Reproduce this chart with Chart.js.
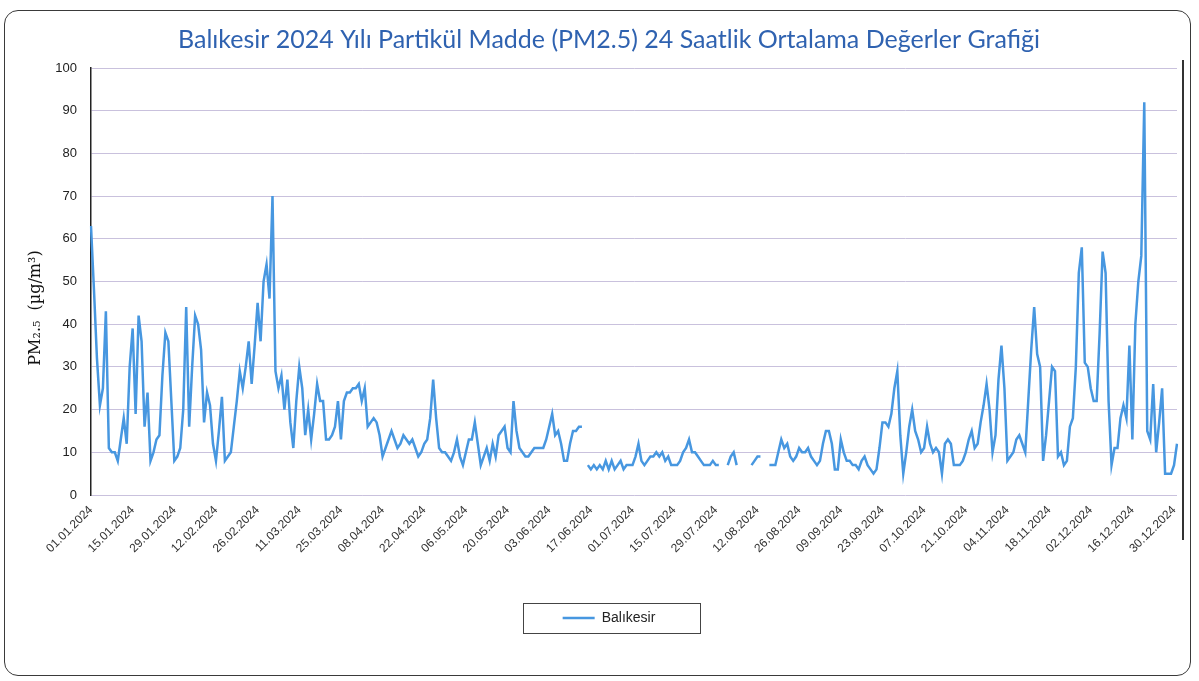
<!DOCTYPE html>
<html><head><meta charset="utf-8">
<script src="https://cdn.jsdelivr.net/npm/chart.js@4.4.1/dist/chart.umd.min.js"></script>
<style>
html,body{margin:0;padding:0;background:#fff;}
#wrap{position:relative;width:1199px;height:681px;overflow:hidden;background:#fff;}
#frame{position:absolute;left:4px;top:10px;width:1187px;height:666px;border:1.5px solid #3a3a3a;border-radius:14px;box-sizing:border-box;}
canvas{position:absolute;left:0;top:0;}
</style></head><body>
<div id="wrap"><div id="frame"></div><canvas id="c" width="1199" height="681"></canvas></div>
<script>
const chartTitle = 'Balıkesir 2024 Yılı Partikül Madde (PM2.5) 24 Saatlik Ortalama Değerler Grafiği';
const yAxisTitle = 'PM\u2082.\u2085  (\u00b5g/m\u00b3)';
const seriesName = 'Balıkesir';
const tickEvery = 14;
const yTicks = [0,10,20,30,40,50,60,70,80,90,100];

// daily categories 01.01.2024 ... 31.12.2024
const categories = [];
for (let i = 0; i < 366; i++) {
  const d = new Date(2024, 0, 1 + i);
  const dd = String(d.getDate()).padStart(2,'0');
  const mm = String(d.getMonth()+1).padStart(2,'0');
  categories.push(dd + '.' + mm + '.' + d.getFullYear());
}

const pmJan = [63,48,32,21,25,43,11,10,10,8,13,18,12,30,39,19,42,36,16,24,8,10,13,14,28,38,36,22,8,9];
const pmFeb = [11,20,44,16,30,42,40,34,17,24,21,12,8,15,23,8,9,10,16,22,29,25,30,36,26,35,45,36,50,54];
const pmMar = [46,70,29,25,28,20,27,17,11,22,30,25,14,20,13,19,26,22,22,13,13,14,16,22,13,22,24,24,25,25];
const pmApr = [26,22,25,16,17,18,17,14,9,11,13,15,13,11,12,14,13,12,13,11,9,10,12,13,18,27,18,11,10,10,9];
const pmMay = [8,10,13,9,7,10,13,13,17,12,7,9,11,8,12,9,14,15,16,11,10,22,15,11,10,9,9,10,11,11];
const pmJun = [11,11,13,16,19,14,15,12,8,8,12,15,15,16,16,null,7,6,7,6,7,6,8,6,8,6,7,8,6,7,7];
const pmJul = [7,9,12,8,7,8,9,9,10,9,10,8,9,7,7,7,8,10,11,13,10,10,9,8,7,7,7,8,7,7];
const pmAug = [null,null,7,9,10,7,null,null,null,null,7,8,9,9,null,null,7,7,7,10,13,11,12,9,8,9,11,10,10,11];
const pmSep = [9,8,7,8,12,15,15,12,6,6,13,10,8,8,7,7,6,8,9,7,6,5,6,11,17,17,16,19,25,29,14];
const pmOct = [5,10,16,20,15,13,10,11,16,12,10,11,10,5,12,13,12,7,7,7,8,10,13,15,11,12,17,21,26,20];
const pmNov = [10,14,27,35,25,8,9,10,13,14,12,10,22,34,44,33,30,8,14,22,30,29,9,10,7,8,16,18,30,52];
const pmDec = [58,31,30,25,22,22,38,57,52,22,7,11,11,18,21,18,35,13,40,50,56,92,15,13,26,10,17,25,5,5,5,7,12];
const pm25 = [].concat(pmJan,pmFeb,pmMar,pmApr,pmMay,pmJun,pmJul,pmAug,pmSep,pmOct,pmNov,pmDec);

const lineColor = '#4797e0';

const decor = {
  id: 'decor',
  afterDraw(chart) {
    const ctx = chart.ctx;
    ctx.save();
    ctx.translate(36, 308);
    ctx.rotate(-Math.PI/2);
    ctx.fillStyle = '#111';
    ctx.font = '16px "DejaVu Serif", "Liberation Serif", serif';
    ctx.textAlign = 'center';
    ctx.textBaseline = 'middle';
    ctx.fillText(yAxisTitle, 0, 0);
    ctx.restore();
    const hb = chart.legend.legendHitBoxes && chart.legend.legendHitBoxes[0];
    if (hb) {
      const cx = hb.left + hb.width/2 + 2;
      const cy = hb.top + hb.height/2;
      ctx.save();
      ctx.strokeStyle = '#444';
      ctx.lineWidth = 1;
      ctx.strokeRect(Math.round(cx-88.5)+0.5, Math.round(cy-15)+0.5, 177, 30);
      ctx.restore();
    }
    ctx.save();
    ctx.strokeStyle = '#333';
    ctx.lineWidth = 2;
    ctx.beginPath();
    ctx.moveTo(1183, 60);
    ctx.lineTo(1183, 540);
    ctx.stroke();
    ctx.restore();
  }
};

new Chart(document.getElementById('c'), {
  type: 'line',
  data: {
    labels: categories,
    datasets: [{
      label: seriesName,
      data: pm25,
      borderColor: lineColor,
      backgroundColor: lineColor,
      borderWidth: 2.5,
      pointRadius: 0,
      tension: 0,
      spanGaps: false
    }]
  },
  options: {
    responsive: false,
    animation: false,
    layout: { padding: { left: 41, right: 22, top: 0, bottom: 46 } },
    plugins: {
      title: {
        display: true, text: chartTitle, color: '#2f62b0',
        font: { family: 'Lato, "Open Sans", sans-serif', size: 25, weight: 'normal' },
        padding: { top: 25, bottom: 13 }
      },
      legend: {
        position: 'bottom',
        labels: {
          usePointStyle: true, pointStyle: 'line', pointStyleWidth: 32,
          color: '#222', font: { family: '"Liberation Sans", sans-serif', size: 14 }, padding: 10
        }
      },
      tooltip: { enabled: false }
    },
    scales: {
      x: {
        offset: false,
        grid: { display: false, drawTicks: false },
        border: { display: false },
        ticks: {
          autoSkip: false, maxRotation: 45, minRotation: 45, padding: 8,
          color: '#333', font: { family: '"Liberation Sans", sans-serif', size: 12 },
          callback: (v, i) => (i % tickEvery === 0 ? categories[i] : '')
        },
        afterFit: s => { s.height = 106; }
      },
      y: {
        min: 0, max: 100,
        afterBuildTicks: s => { s.ticks = yTicks.map(v => ({ value: v })); },
        ticks: { padding: 14, color: '#222', font: { family: '"Liberation Sans", sans-serif', size: 13 } },
        grid: { color: '#c9c1dd', drawTicks: false, lineWidth: 1 },
        border: { display: true, color: '#222', width: 1.5 },
        afterFit: s => { s.width = 50; }
      }
    }
  },
  plugins: [decor]
});
</script>
</body></html>
